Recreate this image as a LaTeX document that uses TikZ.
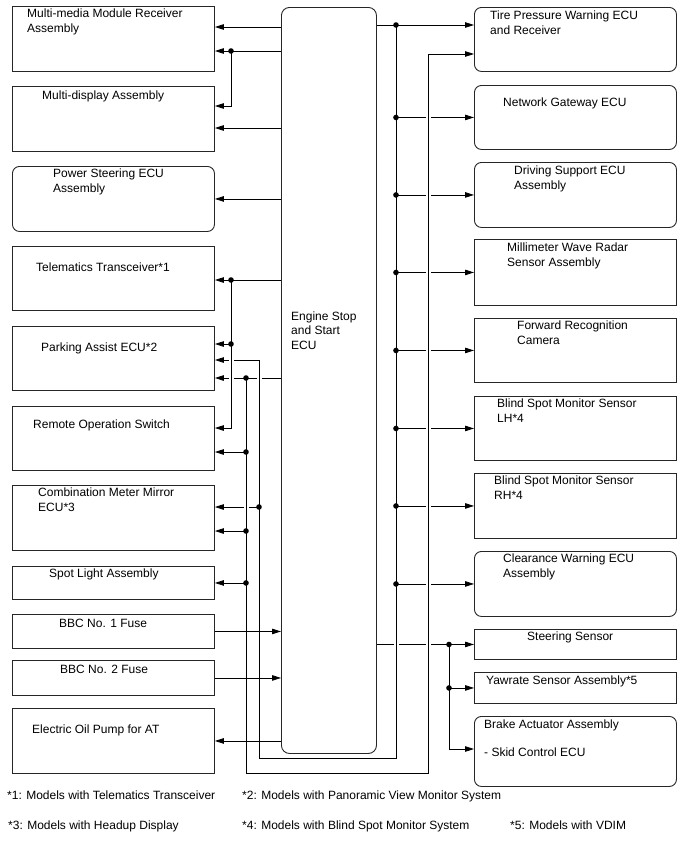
\documentclass[tikz,border=0pt]{standalone}
\usepackage{fontspec}
\setmainfont{Liberation Sans}
\usetikzlibrary{arrows.meta, positioning}

\begin{document}
\begin{tikzpicture}[
  x=1pt, y=-1pt,
  box/.style={draw=black!85, line width=0.9pt, anchor=north west, inner sep=0pt, minimum width=202pt},
  rbox/.style={box, rounded corners=7pt},
  lbl/.style={anchor=base west, align=left, inner sep=0pt, font=\fontsize{12}{14.2}\selectfont},
  wire/.style={line width=0.8pt},
  arr/.style={wire, -{Triangle[length=9pt,width=5.5pt]}},
  gap/.style={white, line width=2.6pt}
]
\useasboundingbox (0,0) rectangle (688,852);

% left column
\node[box, minimum height=65pt] (mmr) at (12,6) {};
\node[box, minimum height=65pt] (md) at (12,86) {};
\node[rbox, minimum height=65pt] (ps) at (12,166) {};
\node[box, minimum height=64pt] (tel) at (12,246) {};
\node[box, minimum height=64pt] (pa) at (12,326) {};
\node[box, minimum height=64pt] (ros) at (12,406) {};
\node[box, minimum height=65pt] (cmm) at (12,485) {};
\node[box, minimum height=33pt] (spot) at (12,566) {};
\node[box, minimum height=34pt] (bbc1) at (12,614) {};
\node[box, minimum height=35pt] (bbc2) at (12,660) {};
\node[box, minimum height=65pt] (eop) at (12,708) {};

% (base of a two-line label is its last line)
\node[lbl] (mmr-t) at ([shift={(15,26)}]mmr.north west) {Multi-media Module Receiver\\Assembly};
\node[lbl] (md-t) at ([shift={(30,13)}]md.north west) {Multi-display Assembly};
\node[lbl] (ps-t) at ([shift={(41,26)}]ps.north west) {Power Steering ECU\\Assembly};
\node[lbl] (tel-t) at ([shift={(24,25)}]tel.north west) {Telematics Transceiver*1};
\node[lbl] (pa-t) at ([shift={(29,25)}]pa.north west) {Parking Assist ECU*2};
\node[lbl] (ros-t) at ([shift={(21,22)}]ros.north west) {Remote Operation Switch};
\node[lbl] (cmm-t) at ([shift={(26,26)}]cmm.north west) {Combination Meter Mirror\\ECU*3};
\node[lbl] (spot-t) at ([shift={(37,11)}]spot.north west) {Spot Light Assembly};
\node[lbl] (bbc1-t) at ([shift={(47,13)}]bbc1.north west) {BBC No. 1 Fuse};
\node[lbl] (bbc2-t) at ([shift={(48,13)}]bbc2.north west) {BBC No. 2 Fuse};
\node[lbl] (eop-t) at ([shift={(20,25)}]eop.north west) {Electric Oil Pump for AT};

% center
\node[rbox, minimum width=95pt, minimum height=746pt, rounded corners=8pt] (ecu) at (281,7) {};
\node[lbl] (ecu-t) at ([shift={(10,342)}]ecu.north west) {Engine Stop\\and Start\\ECU};

% right column
\node[rbox, minimum height=64pt] (tpw) at (474,7) {};
\node[rbox, minimum height=64pt] (ngw) at (474,85) {};
\node[rbox, minimum height=65pt] (ds) at (474,162) {};
\node[box, minimum height=66pt] (mwr) at (474,239) {};
\node[box, minimum height=64pt] (frc) at (474,318) {};
\node[box, minimum height=64pt] (bsml) at (474,396) {};
\node[box, minimum height=65pt] (bsmr) at (474,473) {};
\node[rbox, minimum height=65pt] (cw) at (474,551) {};
\node[box, minimum height=30pt] (ster) at (474,629) {};
\node[box, minimum height=31pt] (yaw) at (474,672) {};
\node[rbox, minimum height=70pt] (brake) at (474,716) {};

\node[lbl] (tpw-t) at ([shift={(16,27)}]tpw.north west) {Tire Pressure Warning ECU\\and Receiver};
\node[lbl] (ngw-t) at ([shift={(29,21)}]ngw.north west) {Network Gateway ECU};
\node[lbl] (ds-t) at ([shift={(40,27)}]ds.north west) {Driving Support ECU\\Assembly};
\node[lbl] (mwr-t) at ([shift={(33,27)}]mwr.north west) {Millimeter Wave Radar\\Sensor Assembly};
\node[lbl] (frc-t) at ([shift={(43,26)}]frc.north west) {Forward Recognition\\Camera};
\node[lbl] (bsml-t) at ([shift={(23,26)}]bsml.north west) {Blind Spot Monitor Sensor\\LH*4};
\node[lbl] (bsmr-t) at ([shift={(20,26)}]bsmr.north west) {Blind Spot Monitor Sensor\\RH*4};
\node[lbl] (cw-t) at ([shift={(29,26)}]cw.north west) {Clearance Warning ECU\\Assembly};
\node[lbl] (ster-t) at ([shift={(53,11)}]ster.north west) {Steering Sensor};
\node[lbl] (yaw-t) at ([shift={(12,12)}]yaw.north west) {Yawrate Sensor Assembly*5};
\node[lbl] (brake-t) at ([shift={(10,40.4)}]brake.north west) {Brake Actuator Assembly\\[14.2pt]- Skid Control ECU};

% footnotes
\node[lbl] (fn1) at (7,799) {*1: Models with Telematics Transceiver};
\node[lbl] (fn2) at (242,799) {*2: Models with Panoramic View Monitor System};
\node[lbl] (fn3) at (8,829) {*3: Models with Headup Display};
\node[lbl] (fn4) at (242,829) {*4: Models with Blind Spot Monitor System};
\node[lbl] (fn5) at (510,829) {*5: Models with VDIM};

% bus lines
\coordinate (busP) at (231,0);
\coordinate (busQ) at (246,0);
\coordinate (busU) at (259,0);
\coordinate (busR) at (396,0);
\coordinate (busT) at (428,0);
\coordinate (busS) at (449,0);

% wires that get a gap where they cross
\foreach \b in {ngw,ds,mwr,frc,bsml,bsmr,cw}
  \draw[arr] (busR |- \b.west) -- (\b.west);
\draw[arr] (ecu.east |- ster.west) -- (ster.west);
\draw[arr] (ecu.west |- 0,378) -- (pa.east |- 0,378);
\draw[arr] (busU |- 0,507) -- (cmm.east |- 0,507);
\foreach \b in {ngw,ds,mwr,frc,bsml,bsmr,cw,ster}
  \draw[gap] ([xshift=-2.5pt]busT |- \b.west) -- ([xshift=2.5pt]busT |- \b.west);
\draw[gap] ([xshift=-2.5pt]busR |- ster.west) -- ([xshift=2.5pt]busR |- ster.west);
\draw[gap] (256.5,378) -- (261.5,378);
\draw[gap] (228.5,378) -- (233.5,378);
\draw[gap] (243.5,507) -- (248.5,507);

% right bus, back round to parking assist
\draw[arr] (ecu.east |- 0,25) -- (tpw.west |- 0,25);
\draw[arr] (busR |- 0,25) -- (busR |- 0,758) -| (busU |- 0,360) -- (pa.east |- 0,360);
\draw[gap] (228.5,360) -- (233.5,360);

% left buses
\draw[arr] (ecu.west |- 0,280) -- (tel.east |- 0,280);
\draw[arr] (busP |- 0,280) |- (ros.east |- 0,428);
\draw[arr] (busP |- 0,344) -- (pa.east |- 0,344);
\draw[arr] (busQ |- 0,378) -- (busQ |- 0,773) -| (busT |- 0,54) -- (tpw.west |- 0,54);
\draw[arr] (busQ |- 0,452) -- (ros.east |- 0,452);
\draw[arr] (busQ |- 0,531) -- (cmm.east |- 0,531);
\draw[arr] (busQ |- spot.east) -- (spot.east);

\draw[arr] (ecu.west |- 0,27) -- (mmr.east |- 0,27);
\draw[arr] (ecu.west |- 0,51) -- (mmr.east |- 0,51);
\draw[arr] (busP |- 0,51) |- (md.east |- 0,106);
\draw[arr] (ecu.west |- 0,128) -- (md.east |- 0,128);
\draw[arr] (ecu.west |- ps.east) -- (ps.east);

\draw[arr] (bbc1.east) -- (ecu.west |- bbc1.east);
\draw[arr] (bbc2.east) -- (ecu.west |- bbc2.east);
\draw[arr] (ecu.west |- eop.east) -- (eop.east);

% steering / yawrate / brake
\draw[arr] (busS |- ster.west) |- (brake.west |- 0,749);
\draw[arr] (busS |- yaw.west) -- (yaw.west);

% junction dots
\foreach \p in {{busP |- 0,51},{busP |- 0,280},{busP |- 0,344},{busQ |- 0,378},{busQ |- 0,452},
  {busQ |- 0,531},{busQ |- spot.east},{busU |- 0,507},{busR |- 0,25},{busS |- ster.west},{busS |- yaw.west}}
  \fill (\p) circle (2.8pt);
\foreach \b in {ngw,ds,mwr,frc,bsml,bsmr,cw}
  \fill (busR |- \b.west) circle (2.8pt);
\end{tikzpicture}
\end{document}
